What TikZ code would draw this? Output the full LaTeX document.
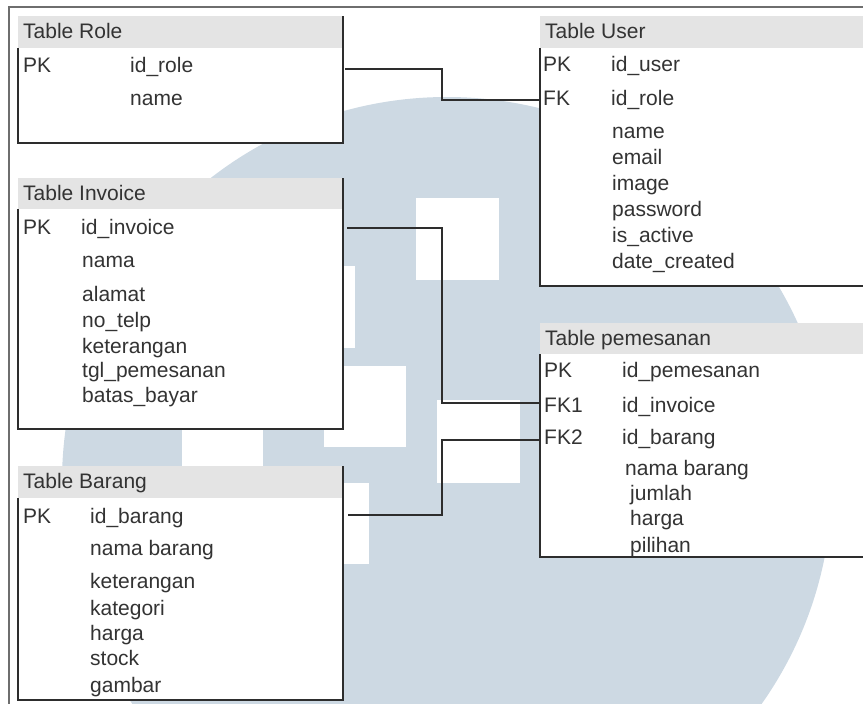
\documentclass[tikz,border=0pt]{standalone}
\usepackage{fontspec}
\setmainfont{Liberation Sans}
\definecolor{wm}{RGB}{205,217,227}
\definecolor{hdr}{RGB}{228,228,228}
\definecolor{txtc}{RGB}{51,51,51}
\definecolor{linec}{RGB}{45,45,45}
\definecolor{framec}{RGB}{110,110,110}
\tikzset{
  txt/.style={anchor=base west, inner sep=0pt, text=txtc, font=\fontsize{21}{25}\selectfont},
  tblborder/.style={draw=linec, line width=2pt},
  hdrfill/.style={fill=hdr},
  conn/.style={draw=linec, line width=1.6pt},
  frameline/.style={draw=framec, line width=2pt}
}
\begin{document}
\begin{tikzpicture}[x=1pt,y=-1pt]
\useasboundingbox (0,0) rectangle (863,704);
\begin{scope}
\clip (0,0) rectangle (863,704);
% watermark
\fill[wm] (447,482) circle (385);
\fill[white] (416,198) rectangle (499,280);
\fill[white] (273,266) rectangle (355,348);
\fill[white] (324,366) rectangle (406,447);
\fill[white] (437,400) rectangle (520,483);
\fill[white] (287,483) rectangle (369,564);
\fill[white] (182,400) rectangle (263,482);
% frame
\draw[frameline] (9,704) -- (9,7) -- (863,7);

% Table Role
\fill[white] (18,48) rectangle (343,143);
\fill[hdrfill] (18,16) rectangle (343,48);
\draw[tblborder] (18,48) -- (18,143) -- (343,143) -- (343,16);
\node[txt] (roleT) at (23,38) {Table Role};
\node[txt] (roleK1) at (23,72) {PK};
\node[txt] (roleF1) at (130,72) {id\_role};
\node[txt] (roleF2) at (130,105) {name};

% Table User
\fill[white] (540,48) rectangle (863,286);
\fill[hdrfill] (540,16) rectangle (863,48);
\draw[tblborder] (540,48) -- (540,286) -- (863,286);
\node[txt] (userT) at (545,38) {Table User};
\node[txt] (userK1) at (543,71) {PK};
\node[txt] (userF1) at (611,71) {id\_user};
\node[txt] (userK2) at (543,105) {FK};
\node[txt] (userF2) at (611,105) {id\_role};
\node[txt] (userF3) at (612,138) {name};
\node[txt] (userF4) at (612,164) {email};
\node[txt] (userF5) at (612,190) {image};
\node[txt] (userF6) at (612,216) {password};
\node[txt] (userF7) at (612,242) {is\_active};
\node[txt] (userF8) at (612,268) {date\_created};

% Table Invoice
\fill[white] (18,209) rectangle (343,429);
\fill[hdrfill] (18,178) rectangle (343,209);
\draw[tblborder] (18,209) -- (18,429) -- (343,429) -- (343,178);
\node[txt] (invT) at (23,200) {Table Invoice};
\node[txt] (invK1) at (23,234) {PK};
\node[txt] (invF1) at (81,234) {id\_invoice};
\node[txt] (invF2) at (82,267) {nama};
\node[txt] (invF3) at (82,301) {alamat};
\node[txt] (invF4) at (82,327) {no\_telp};
\node[txt] (invF5) at (82,353) {keterangan};
\node[txt] (invF6) at (82,377) {tgl\_pemesanan};
\node[txt] (invF7) at (82,402) {batas\_bayar};

% Table Barang
\fill[white] (18,498) rectangle (343,700);
\fill[hdrfill] (18,466) rectangle (343,498);
\draw[tblborder] (18,498) -- (18,700) -- (343,700) -- (343,466);
\node[txt] (brgT) at (23,488) {Table Barang};
\node[txt] (brgK1) at (23,523) {PK};
\node[txt] (brgF1) at (90,523) {id\_barang};
\node[txt] (brgF2) at (90,555) {nama barang};
\node[txt] (brgF3) at (90,588) {keterangan};
\node[txt] (brgF4) at (90,615) {kategori};
\node[txt] (brgF5) at (90,640) {harga};
\node[txt] (brgF6) at (90,665) {stock};
\node[txt] (brgF7) at (90,692) {gambar};

% Table pemesanan
\fill[white] (540,354) rectangle (863,557);
\fill[hdrfill] (540,323) rectangle (863,354);
\draw[tblborder] (540,354) -- (540,557) -- (863,557);
\node[txt] (pesT) at (545,345) {Table pemesanan};
\node[txt] (pesK1) at (544,377) {PK};
\node[txt] (pesF1) at (622,377) {id\_pemesanan};
\node[txt] (pesK2) at (544,412) {FK1};
\node[txt] (pesF2) at (622,412) {id\_invoice};
\node[txt] (pesK3) at (544,444) {FK2};
\node[txt] (pesF3) at (622,444) {id\_barang};
\node[txt] (pesF4) at (625,475) {nama barang};
\node[txt] (pesF5) at (630,500) {jumlah};
\node[txt] (pesF6) at (630,525) {harga};
\node[txt] (pesF7) at (630,552) {pilihan};

% connectors
\coordinate (bend) at (442,0);
\coordinate (roleOut) at (345,69);
\coordinate (userIn) at (540,100);
\coordinate (invOut) at (347,228);
\coordinate (pesIn1) at (540,403);
\coordinate (brgOut) at (348,515);
\coordinate (pesIn2) at (540,440);
\draw[conn] (roleOut) -- (roleOut -| bend) |- (userIn);
\draw[conn] (invOut) -- (invOut -| bend) |- (pesIn1);
\draw[conn] (brgOut) -- (brgOut -| bend) |- (pesIn2);
\end{scope}
\end{tikzpicture}
\end{document}
